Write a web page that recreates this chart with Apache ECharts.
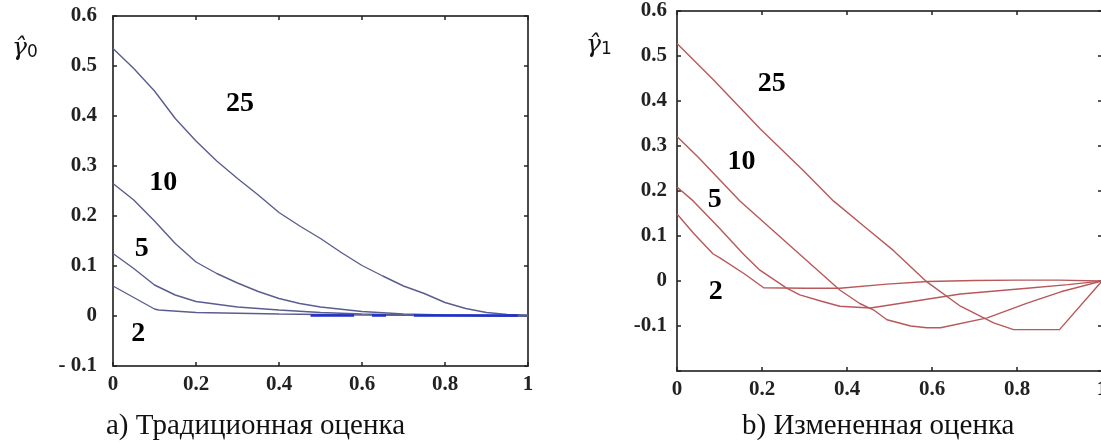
<!DOCTYPE html>
<html>
<head>
<meta charset="utf-8">
<script src="https://cdn.jsdelivr.net/npm/echarts@6/dist/echarts.min.js"></script>
<style>
  html, body { margin: 0; padding: 0; background: #fff; }
  #main { width: 1101px; height: 443px; }
</style>
</head>
<body>
<div id="main"></div>
<script>
// панель a) традиционная оценка
var tA25 = [0, 0.05, 0.1, 0.15, 0.2, 0.25, 0.3, 0.35, 0.4, 0.45, 0.5, 0.55, 0.6, 0.65, 0.7, 0.75, 0.8, 0.85, 0.9, 0.95, 1.0];
var vA25 = [0.535, 0.495, 0.45, 0.395, 0.35, 0.31, 0.275, 0.242, 0.207, 0.18, 0.155, 0.127, 0.101, 0.08, 0.06, 0.045, 0.027, 0.015, 0.007, 0.003, 0.002];
var tA10 = [0, 0.05, 0.1, 0.15, 0.2, 0.25, 0.3, 0.35, 0.4, 0.45, 0.5, 0.6, 0.7, 0.8, 0.9, 1.0];
var vA10 = [0.265, 0.232, 0.19, 0.145, 0.108, 0.085, 0.066, 0.049, 0.035, 0.025, 0.018, 0.009, 0.004, 0.002, 0.001, 0.0];
var tA5 = [0, 0.05, 0.1, 0.15, 0.2, 0.3, 0.4, 0.5, 0.6, 0.7, 1.0];
var vA5 = [0.125, 0.095, 0.062, 0.042, 0.029, 0.018, 0.012, 0.007, 0.004, 0.002, 0.0];
var tA2 = [0, 0.05, 0.1, 0.11, 0.2, 0.4, 0.6, 1.0];
var vA2 = [0.06, 0.037, 0.014, 0.012, 0.007, 0.004, 0.002, 0.0];
// яркие участки наложения линий на нуле
var tOverlap = [0.476, 0.581, null, 0.624, 0.658, null, 0.725, 0.975];

// панель b) измененная оценка
var tB25 = [0, 0.085, 0.195, 0.3, 0.368, 0.45, 0.509, 0.588, 0.667, 0.745, 0.792, 0.9, 1.0];
var vB25 = [0.528, 0.448, 0.339, 0.243, 0.178, 0.114, 0.068, -0.002, -0.056, -0.093, -0.108, -0.108, 0.0];
var tB10 = [0, 0.05, 0.148, 0.282, 0.383, 0.43, 0.462, 0.494, 0.55, 0.588, 0.62, 0.73, 0.824, 0.903, 1.0];
var vB10 = [0.321, 0.275, 0.178, 0.065, -0.02, -0.05, -0.064, -0.086, -0.1, -0.104, -0.104, -0.082, -0.049, -0.024, 0.0];
var tB5 = [0, 0.038, 0.1, 0.156, 0.195, 0.258, 0.289, 0.34, 0.383, 0.455, 0.55, 0.667, 0.824, 0.92, 1.0];
var vB5 = [0.209, 0.178, 0.117, 0.06, 0.024, -0.016, -0.031, -0.045, -0.056, -0.06, -0.046, -0.029, -0.016, -0.008, 0.0];
var tB2 = [0, 0.04, 0.085, 0.1, 0.16, 0.204, 0.3, 0.383, 0.494, 0.59, 0.7, 0.8, 0.9, 1.0];
var vB2 = [0.149, 0.105, 0.06, 0.052, 0.015, -0.015, -0.016, -0.016, -0.007, -0.001, 0.001, 0.002, 0.002, 0.0];

// подписи кривых: [x, y, текст]
var labelsA = [[0.306, 0.425, '25'], [0.121, 0.267, '10'], [0.069, 0.135, '5'], [0.061, -0.035, '2']];
var labelsB = [[0.223, 0.438, '25'], [0.152, 0.266, '10'], [0.089, 0.18, '5'], [0.091, -0.023, '2']];

function zip(t, v) {
    return t.map(function (x, i) { return [x, v[i]]; });
}

var colorA = '#5a5d90';
var colorB = '#b9585a';
var axisColor = '#4a4a4a';
var tickFont = { fontFamily: 'Liberation Serif', fontWeight: 'bold', fontSize: 21, color: '#222' };

function xAxes(gridIndex, top) {
    return {
        type: 'value', gridIndex: gridIndex, min: 0, max: 1, interval: 0.2,
        position: top ? 'top' : 'bottom',
        axisLine: { show: true, onZero: false, lineStyle: { color: axisColor, width: 2 } },
        axisTick: { show: true, inside: true, length: 4, lineStyle: { color: '#222', width: 1.5 } },
        axisLabel: Object.assign({ show: !top, margin: 8 }, tickFont),
        splitLine: { show: false }
    };
}

function yAxes(gridIndex, right, min, max, margin, fmt) {
    return {
        type: 'value', gridIndex: gridIndex, min: min, max: max, interval: 0.1,
        position: right ? 'right' : 'left',
        axisLine: { show: true, onZero: false, lineStyle: { color: axisColor, width: 2 } },
        axisTick: { show: true, inside: true, length: 4, lineStyle: { color: '#222', width: 1.5 } },
        axisLabel: Object.assign({ show: !right, margin: margin, formatter: fmt }, tickFont),
        splitLine: { show: false }
    };
}

function line(name, xi, t, v, color) {
    return {
        name: name, type: 'line', xAxisIndex: xi, yAxisIndex: xi,
        data: zip(t, v), showSymbol: false, symbol: 'none',
        lineStyle: { color: color, width: 1.4 }, z: 3
    };
}

function curveLabels(xi, labels) {
    return {
        type: 'scatter', xAxisIndex: xi, yAxisIndex: xi, symbolSize: 0, silent: true,
        itemStyle: { opacity: 1 },
        data: labels.map(function (l) { return { value: [l[0], l[1]], name: l[2] }; }),
        label: {
            show: true, position: 'inside', formatter: '{b}',
            fontFamily: 'Liberation Serif', fontWeight: 'bold', fontSize: 28,
            color: '#000', textBorderWidth: 0, opacity: 1
        }
    };
}

var myChart = echarts.init(document.getElementById('main'), null, { renderer: 'canvas' });

option = {
    animation: false,
    backgroundColor: '#fff',
    grid: [
        { left: 113, top: 16, width: 415, height: 350, outerBoundsMode: 'none' },
        { left: 677, top: 11, width: 425, height: 360, outerBoundsMode: 'none' }
    ],
    xAxis: [xAxes(0, false), xAxes(1, false), xAxes(0, true), xAxes(1, true)],
    yAxis: [
        yAxes(0, false, -0.1, 0.6, 16, function (v) {
            return Math.abs(v + 0.1) < 1e-6 ? '- 0.1' : String(Math.round(v * 10) / 10);
        }),
        yAxes(1, false, -0.2, 0.6, 10, function (v) {
            return Math.abs(v + 0.2) < 1e-6 ? '' : String(Math.round(v * 10) / 10);
        }),
        yAxes(0, true, -0.1, 0.6, 8),
        yAxes(1, true, -0.2, 0.6, 8)
    ],
    series: [
        line('25', 0, tA25, vA25, colorA),
        line('10', 0, tA10, vA10, colorA),
        line('5', 0, tA5, vA5, colorA),
        line('2', 0, tA2, vA2, colorA),
        {
            type: 'line', xAxisIndex: 0, yAxisIndex: 0, showSymbol: false, symbol: 'none',
            data: tOverlap.map(function (x) { return x === null ? [null, null] : [x, 0.001]; }),
            connectNulls: false,
            lineStyle: { color: '#1f2fd0', width: 2.6 }, z: 4
        },
        line('25', 1, tB25, vB25, colorB),
        line('10', 1, tB10, vB10, colorB),
        line('5', 1, tB5, vB5, colorB),
        line('2', 1, tB2, vB2, colorB),
        curveLabels(0, labelsA),
        curveLabels(1, labelsB)
    ],
    graphic: [
        {
            type: 'text', left: 12, top: 36,
            style: {
                text: '{g|\u03B3\u0302}{s|0}',
                rich: {
                    g: { fontFamily: 'DejaVu Serif', fontStyle: 'italic', fontSize: 25, fill: '#111' },
                    s: { fontFamily: 'DejaVu Sans', fontSize: 17, fill: '#111', padding: [8, 0, 0, 0] }
                }
            }
        },
        {
            type: 'text', left: 586, top: 33,
            style: {
                text: '{g|\u03B3\u0302}{s|1}',
                rich: {
                    g: { fontFamily: 'DejaVu Serif', fontStyle: 'italic', fontSize: 25, fill: '#111' },
                    s: { fontFamily: 'DejaVu Sans', fontSize: 17, fill: '#111', padding: [8, 0, 0, 0] }
                }
            }
        },
        {
            type: 'text', top: 412, left: 106,
            style: { text: 'а) Традиционная оценка', font: '29px "Liberation Serif"', fill: '#111' }
        },
        {
            type: 'text', top: 412, left: 742,
            style: { text: 'b) Измененная оценка', font: '29px "Liberation Serif"', fill: '#111' }
        }
    ]
};

myChart.setOption(option);
window.addEventListener('resize', function () {
    myChart.resize();
});
</script>
</body>
</html>
